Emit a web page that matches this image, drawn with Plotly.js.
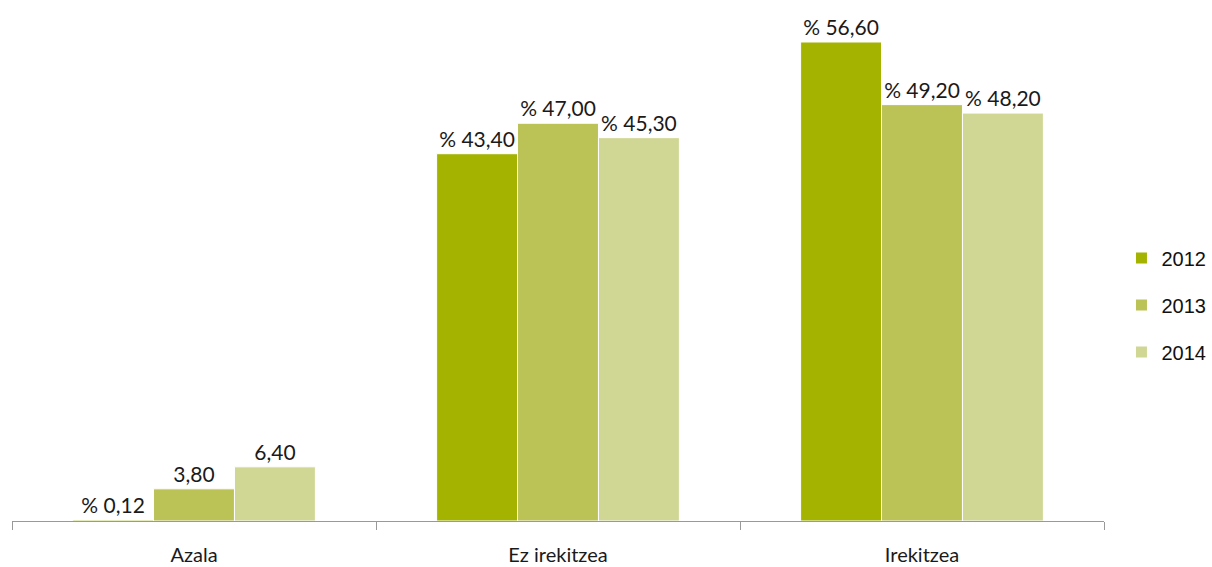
<!DOCTYPE html>
<html>
<head>
<meta charset="utf-8">
<script src="https://cdn.plot.ly/plotly-3.0.1.min.js"></script>
<style>html,body{margin:0;padding:0;background:#fff;}#chart{width:1212px;height:567px;}</style>
</head>
<body>
<div id="chart"></div>
<script>
const categories = ["Azala", "Ez irekitzea", "Irekitzea"];
const years = ["2012", "2013", "2014"];
const values2012 = [0.12, 43.4, 56.6];
const values2013 = [3.8, 47.0, 49.2];
const values2014 = [6.4, 45.3, 48.2];
const labels2012 = ["% 0,12", "% 43,40", "% 56,60"];
const labels2013 = ["3,80", "% 47,00", "% 49,20"];
const labels2014 = ["6,40", "% 45,30", "% 48,20"];
const colors = ["#A3B300", "#BBC256", "#D0D795"];

const series = [values2012, values2013, values2014];
const labels = [labels2012, labels2013, labels2014];

const traces = years.map((y, i) => ({
  type: "bar",
  name: y,
  x: categories,
  y: series[i],
  text: labels[i],
  texttemplate: "%{text}",
  textposition: "outside",
  cliponaxis: false,
  textfont: {family: "Lato, 'Open Sans', sans-serif", size: 21, color: "#1a1a1a"},
  marker: {color: colors[i], line: {color: "#ffffff", width: 1}},
  legendgroup: y,
  hoverinfo: "skip"
}));

const layout = {
  width: 1212,
  height: 567,
  margin: {l: 12, r: 108, t: 20, b: 46},
  paper_bgcolor: "#ffffff",
  plot_bgcolor: "#ffffff",
  barmode: "group",
  bargap: 0.333,
  bargroupgap: 0,
  showlegend: true,
  legend: {
    xref: "container", yref: "container",
    x: 0.9253, xanchor: "left",
    y: 1 - 305/567, yanchor: "middle",
    font: {family: "'Liberation Sans', Arial, sans-serif", size: 20, color: "#111"},
    traceorder: "grouped",
    tracegroupgap: 18,
    itemwidth: 30
  },
  xaxis: {
    type: "category",
    showline: true,
    linecolor: "#999999",
    linewidth: 1,
    ticks: "outside",
    tickson: "boundaries",
    ticklen: 8,
    tickcolor: "#999999",
    showgrid: false,
    ticklabelstandoff: 16,
    tickfont: {family: "Lato, 'Open Sans', sans-serif", size: 20, color: "#1a1a1a"},
    automargin: false
  },
  yaxis: {
    range: [0, 59.2],
    showgrid: false,
    zeroline: false,
    showticklabels: false,
    ticks: "",
    showline: false,
    automargin: false
  },
  uniformtext: {mode: false}
};

Plotly.newPlot("chart", traces, layout, {displayModeBar: false, staticPlot: true});
</script>
</body>
</html>
